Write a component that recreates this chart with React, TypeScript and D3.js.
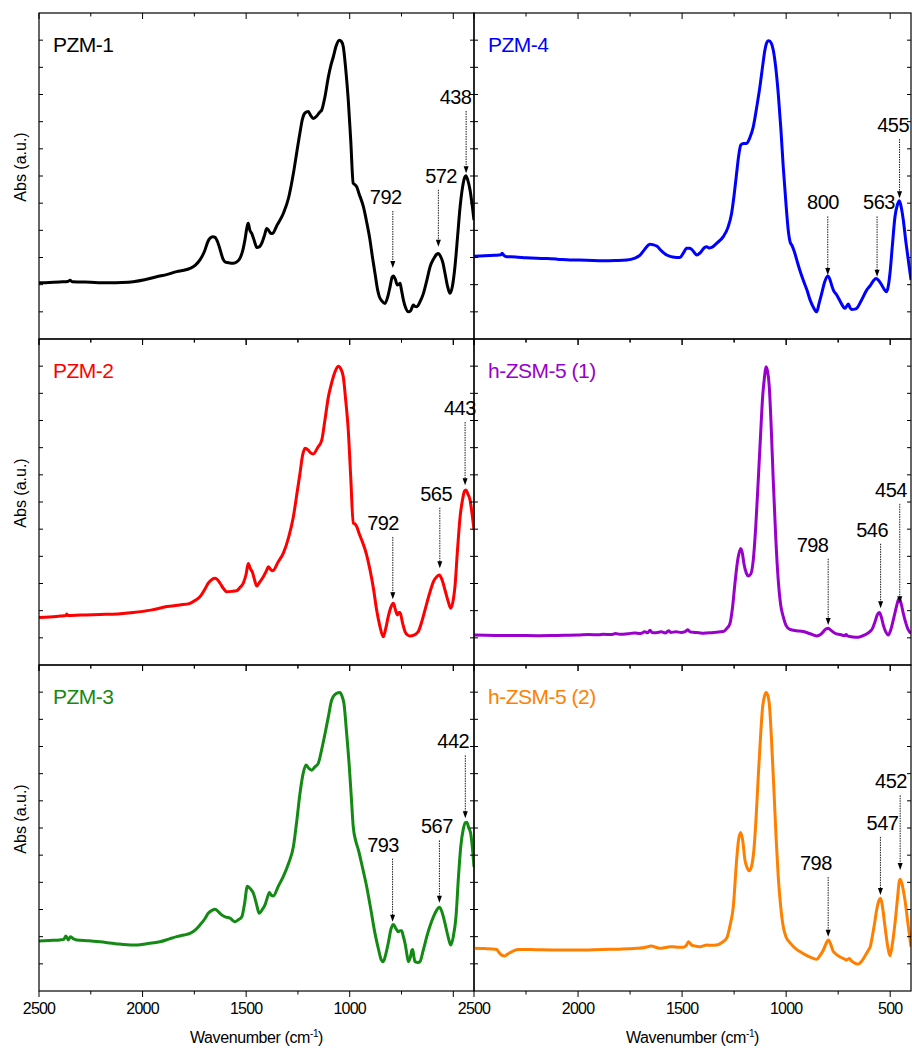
import { useEffect, useRef } from 'react';
import * as d3 from 'd3';

// spectra: [wavenumber (cm-1), absorbance in arbitrary units 0..12]
const pzm1 = [[2500,2.07],[2450,2.08],[2400,2.1],[2360,2.12],[2350,2.16],[2340,2.11],[2300,2.1],[2250,2.09],[2200,2.07],[2157,2.07],[2100,2.08],[2045,2.11],[1990,2.18],[1932,2.29],[1880,2.38],[1835,2.48],[1800,2.53],[1771,2.6],[1745,2.72],[1723,2.91],[1700,3.25],[1685,3.58],[1674,3.71],[1660,3.76],[1650,3.74],[1638,3.58],[1626,3.3],[1612,2.95],[1600,2.83],[1580,2.8],[1562,2.79],[1545,2.84],[1530,2.97],[1515,3.3],[1506,3.64],[1495,4.15],[1490,4.26],[1482,4.0],[1473,3.89],[1460,3.6],[1449,3.37],[1435,3.4],[1425,3.52],[1410,3.85],[1401,4.07],[1390,3.98],[1380,3.88],[1372,3.89],[1350,4.2],[1320,4.63],[1295,5.2],[1272,6.09],[1255,6.9],[1240,7.6],[1228,8.1],[1216,8.32],[1200,8.37],[1188,8.22],[1176,8.12],[1160,8.2],[1145,8.35],[1135,8.43],[1120,8.9],[1103,9.65],[1090,10.1],[1079,10.39],[1065,10.8],[1050,11.0],[1040,10.95],[1031,10.76],[1020,10.0],[1007,8.8],[995,7.3],[983,5.73],[975,5.68],[966,5.6],[955,5.35],[934,4.87],[918,4.3],[902,3.64],[890,3.0],[878,2.42],[865,1.8],[857,1.56],[845,1.4],[830,1.31],[815,1.6],[805,1.93],[795,2.28],[789,2.32],[780,2.2],[770,1.99],[762,2.02],[757,2.05],[750,1.8],[741,1.44],[730,1.15],[717,1.0],[705,1.05],[693,1.25],[685,1.2],[676,1.19],[660,1.38],[644,1.68],[628,2.15],[612,2.66],[595,2.95],[580,3.12],[572,3.15],[562,3.05],[550,2.8],[540,2.42],[528,1.95],[516,1.68],[504,1.95],[492,2.66],[480,3.7],[467,4.87],[455,5.6],[445,5.95],[439,6.01],[430,5.85],[419,5.48],[410,5.0],[400,4.38]];

const pzm4 = [[2500,3.05],[2450,3.06],[2400,3.08],[2370,3.1],[2365,3.16],[2355,3.07],[2343,3.03],[2300,3.02],[2250,2.99],[2199,2.97],[2150,2.96],[2100,2.94],[2039,2.91],[1960,2.9],[1879,2.88],[1820,2.89],[1766,2.91],[1730,2.97],[1702,3.09],[1680,3.3],[1662,3.46],[1654,3.49],[1640,3.47],[1622,3.42],[1600,3.25],[1574,3.09],[1545,3.02],[1510,3.0],[1495,3.15],[1478,3.34],[1465,3.34],[1454,3.3],[1440,3.17],[1430,3.09],[1410,3.2],[1392,3.37],[1382,3.4],[1370,3.35],[1358,3.37],[1330,3.55],[1302,3.77],[1280,4.1],[1262,4.63],[1250,5.3],[1238,6.1],[1228,6.75],[1218,7.14],[1205,7.2],[1190,7.2],[1175,7.4],[1158,7.81],[1140,8.6],[1126,9.29],[1112,10.1],[1102,10.64],[1090,10.95],[1083,10.98],[1072,10.9],[1062,10.64],[1050,10.0],[1038,9.04],[1025,7.7],[1014,6.34],[1000,4.9],[990,4.01],[980,3.55],[973,3.46],[960,3.2],[949,2.91],[935,2.55],[918,2.17],[900,1.8],[885,1.44],[868,1.15],[853,1.0],[842,1.3],[829,1.68],[815,2.1],[800,2.32],[790,2.2],[780,1.95],[773,1.8],[757,1.62],[740,1.38],[725,1.18],[717,1.13],[708,1.22],[701,1.29],[693,1.15],[685,1.09],[670,1.1],[661,1.13],[640,1.4],[613,1.8],[595,1.97],[580,2.15],[568,2.23],[555,2.15],[541,1.99],[528,1.82],[517,1.74],[508,2.0],[501,2.42],[490,3.4],[477,4.5],[465,4.95],[456,5.09],[447,4.85],[437,4.38],[425,3.6],[413,2.91],[400,2.17]];

const pzm2 = [[2500,1.75],[2450,1.77],[2400,1.8],[2370,1.82],[2366,1.88],[2360,1.82],[2300,1.84],[2206,1.86],[2120,1.88],[2045,1.93],[1960,2.02],[1883,2.15],[1820,2.21],[1771,2.27],[1745,2.38],[1723,2.51],[1700,2.78],[1683,3.01],[1665,3.15],[1650,3.19],[1638,3.14],[1626,3.01],[1610,2.82],[1594,2.7],[1570,2.71],[1546,2.73],[1530,2.85],[1514,3.01],[1500,3.35],[1490,3.74],[1480,3.55],[1470,3.42],[1460,3.15],[1449,2.91],[1435,3.05],[1417,3.25],[1400,3.5],[1393,3.62],[1382,3.52],[1372,3.47],[1345,3.8],[1321,4.11],[1295,4.7],[1272,5.46],[1255,6.3],[1240,7.06],[1228,7.7],[1216,7.98],[1200,7.91],[1188,7.8],[1176,7.77],[1155,8.0],[1135,8.28],[1120,9.0],[1103,9.87],[1090,10.3],[1079,10.61],[1065,10.9],[1055,11.0],[1043,10.9],[1031,10.61],[1020,9.8],[1007,8.65],[995,6.9],[983,5.22],[975,5.2],[966,5.09],[955,4.85],[942,4.6],[920,4.1],[902,3.5],[885,2.8],[870,2.02],[855,1.45],[838,1.04],[826,1.35],[814,1.78],[800,2.15],[789,2.27],[780,2.05],[770,1.84],[763,1.93],[757,1.93],[745,1.55],[733,1.23],[720,1.1],[709,1.07],[690,1.1],[669,1.23],[650,1.65],[628,2.27],[610,2.75],[596,3.07],[580,3.25],[567,3.31],[555,3.15],[540,2.76],[525,2.35],[512,2.09],[500,2.4],[492,2.88],[480,4.2],[467,5.46],[455,6.1],[446,6.4],[439,6.44],[430,6.3],[419,6.07],[410,5.6],[400,4.97]];

const hzsm1 = [[2500,1.1],[2400,1.09],[2300,1.09],[2199,1.08],[2100,1.09],[2000,1.1],[1950,1.12],[1900,1.11],[1879,1.13],[1840,1.12],[1820,1.16],[1800,1.13],[1760,1.15],[1730,1.18],[1718,1.17],[1700,1.16],[1680,1.22],[1665,1.19],[1654,1.28],[1645,1.2],[1625,1.19],[1600,1.22],[1580,1.18],[1565,1.26],[1555,1.2],[1530,1.22],[1505,1.2],[1485,1.23],[1472,1.3],[1462,1.22],[1440,1.2],[1420,1.19],[1398,1.17],[1350,1.2],[1302,1.23],[1285,1.35],[1270,1.53],[1258,2.1],[1246,3.01],[1232,3.9],[1218,4.29],[1210,4.1],[1203,3.74],[1192,3.4],[1182,3.28],[1170,3.35],[1158,3.86],[1146,5.1],[1134,6.81],[1122,8.6],[1113,9.87],[1104,10.6],[1097,10.98],[1089,10.8],[1081,10.24],[1072,8.8],[1062,6.81],[1050,4.7],[1038,3.13],[1026,2.2],[1014,1.78],[1000,1.45],[982,1.31],[950,1.26],[918,1.23],[885,1.15],[853,1.07],[835,1.12],[821,1.23],[808,1.33],[797,1.35],[785,1.28],[765,1.17],[740,1.12],[720,1.08],[712,1.12],[705,1.07],[680,1.03],[653,1.02],[625,1.1],[597,1.23],[585,1.35],[573,1.59],[562,1.85],[552,1.93],[542,1.75],[533,1.47],[520,1.2],[509,1.1],[497,1.3],[485,1.66],[470,2.15],[460,2.42],[456,2.45],[447,2.25],[437,1.9],[425,1.55],[413,1.29],[400,1.17]];

const pzm3 = [[2500,1.84],[2450,1.86],[2399,1.88],[2380,1.9],[2371,2.02],[2364,1.95],[2358,1.88],[2352,1.96],[2347,2.0],[2335,1.92],[2318,1.88],[2260,1.85],[2206,1.81],[2130,1.74],[2045,1.69],[1980,1.74],[1916,1.81],[1870,1.92],[1835,2.0],[1800,2.06],[1771,2.12],[1745,2.25],[1723,2.43],[1700,2.65],[1683,2.86],[1665,2.97],[1650,3.01],[1632,2.9],[1618,2.8],[1598,2.72],[1578,2.68],[1565,2.6],[1554,2.55],[1538,2.62],[1521,2.73],[1508,3.2],[1494,3.86],[1478,3.75],[1465,3.6],[1450,3.2],[1437,2.86],[1422,3.0],[1409,3.17],[1395,3.5],[1388,3.63],[1378,3.52],[1369,3.5],[1345,3.85],[1321,4.21],[1295,4.7],[1272,5.31],[1255,6.3],[1240,7.28],[1225,8.0],[1211,8.32],[1198,8.2],[1184,8.13],[1168,8.25],[1152,8.38],[1135,8.9],[1119,9.48],[1103,10.1],[1087,10.71],[1065,10.95],[1047,10.99],[1037,10.85],[1028,10.59],[1015,9.5],[1002,8.26],[992,7.1],[983,6.05],[970,5.5],[958,5.19],[940,4.6],[918,3.84],[898,3.0],[878,2.12],[860,1.5],[848,1.15],[838,1.08],[826,1.35],[814,1.76],[800,2.3],[789,2.45],[777,2.3],[765,2.18],[757,2.22],[749,2.22],[741,2.0],[733,1.76],[725,1.4],[717,1.08],[707,1.25],[700,1.5],[696,1.53],[690,1.25],[685,1.08],[670,1.05],[661,1.08],[645,1.5],[628,2.0],[612,2.4],[596,2.73],[580,2.98],[567,3.08],[555,2.92],[540,2.49],[525,2.0],[512,1.69],[500,2.0],[487,2.73],[475,4.2],[464,5.31],[452,5.95],[442,6.2],[435,6.21],[425,6.0],[416,5.8],[408,5.3],[400,4.57]];

const hzsm2 = [[2500,1.57],[2450,1.56],[2410,1.55],[2391,1.53],[2380,1.42],[2367,1.32],[2351,1.29],[2340,1.35],[2327,1.41],[2310,1.48],[2287,1.53],[2200,1.52],[2119,1.51],[2000,1.51],[1879,1.53],[1800,1.54],[1718,1.57],[1680,1.6],[1660,1.64],[1646,1.66],[1630,1.62],[1606,1.57],[1580,1.6],[1560,1.63],[1542,1.63],[1520,1.61],[1494,1.61],[1478,1.7],[1470,1.81],[1462,1.76],[1454,1.69],[1440,1.66],[1414,1.63],[1395,1.67],[1382,1.69],[1360,1.68],[1334,1.69],[1310,1.78],[1286,1.94],[1270,2.4],[1254,3.1],[1238,4.82],[1228,5.6],[1218,5.83],[1208,5.5],[1198,4.82],[1188,4.55],[1177,4.43],[1166,4.6],[1155,5.19],[1145,6.3],[1134,7.89],[1122,9.5],[1113,10.46],[1104,10.85],[1097,10.99],[1089,10.9],[1081,10.59],[1070,9.2],[1058,7.28],[1048,5.6],[1038,4.21],[1026,3.1],[1014,2.37],[1000,1.98],[982,1.78],[960,1.6],[934,1.45],[900,1.3],[870,1.2],[853,1.17],[838,1.3],[821,1.51],[808,1.75],[797,1.88],[785,1.7],[775,1.48],[765,1.39],[740,1.25],[720,1.18],[709,1.14],[697,1.2],[685,1.1],[668,1.02],[653,0.99],[637,1.1],[621,1.29],[605,1.5],[595,1.65],[589,1.88],[577,2.4],[565,2.98],[553,3.35],[546,3.41],[537,3.1],[525,2.37],[512,1.65],[501,1.29],[490,1.7],[477,2.49],[465,3.4],[456,4.05],[452,4.11],[442,3.9],[429,3.35],[415,2.5],[400,1.63]];

// peak annotations: arrow at w, text centred at textW
const pzm1Peaks = [
  { label: '792', w: 792, textW: 826, textU: 4.97, tipU: 2.61 },
  { label: '572', w: 572, textW: 559, textU: 5.75, tipU: 3.4 },
  { label: '438', w: 438, textW: 489, textU: 8.65, tipU: 6.1 },
];
const pzm4Peaks = [
  { label: '800', w: 800, textW: 823, textU: 4.77, tipU: 2.36 },
  { label: '563', w: 563, textW: 554, textU: 4.77, tipU: 2.29 },
  { label: '455', w: 455, textW: 486, textU: 7.62, tipU: 5.18 },
];
const pzm2Peaks = [
  { label: '792', w: 792, textW: 839, textU: 4.97, tipU: 2.42 },
  { label: '565', w: 565, textW: 583, textU: 6.05, tipU: 3.56 },
  { label: '443', w: 443, textW: 468, textU: 9.2, tipU: 6.62 },
];
const hzsm1Peaks = [
  { label: '798', w: 798, textW: 873, textU: 4.17, tipU: 1.47 },
  { label: '546', w: 546, textW: 587, textU: 4.72, tipU: 2.09 },
  { label: '454', w: 454, textW: 496, textU: 6.19, tipU: 2.27 },
];
const pzm3Peaks = [
  { label: '793', w: 793, textW: 839, textU: 5.13, tipU: 2.55 },
  { label: '567', w: 567, textW: 579, textU: 5.8, tipU: 3.25 },
  { label: '442', w: 442, textW: 500, textU: 8.93, tipU: 6.36 },
];
const hzsm2Peaks = [
  { label: '798', w: 798, textW: 857, textU: 4.45, tipU: 2.0 },
  { label: '547', w: 547, textW: 537, textU: 5.93, tipU: 3.53 },
  { label: '452', w: 452, textW: 496, textU: 7.46, tipU: 4.45 },
];

const leftTickLabels = [2500, 2000, 1500, 1000];
const rightTickLabels = [2500, 2000, 1500, 1000, 500];
const xTicks = [2500, 2250, 2000, 1750, 1500, 1250, 1000, 750, 500];
const yTicks = [1, 2, 3, 4, 5, 6, 7, 8, 9, 10, 11];

const panels = [
  { name: 'PZM-1', color: '#000000', data: pzm1, peaks: pzm1Peaks, col: 0, row: 0 },
  { name: 'PZM-4', color: '#0000ff', data: pzm4, peaks: pzm4Peaks, col: 1, row: 0 },
  { name: 'PZM-2', color: '#ff0000', data: pzm2, peaks: pzm2Peaks, col: 0, row: 1 },
  { name: 'h-ZSM-5 (1)', color: '#9900cc', data: hzsm1, peaks: hzsm1Peaks, col: 1, row: 1 },
  { name: 'PZM-3', color: '#138a13', data: pzm3, peaks: pzm3Peaks, col: 0, row: 2 },
  { name: 'h-ZSM-5 (2)', color: '#ff8000', data: hzsm2, peaks: hzsm2Peaks, col: 1, row: 2 },
];

const width = 912,
  height = 1052;
const colEdges = [39, 474, 911];
const rowEdges = [13, 339, 665, 991];
const font = 'Liberation Sans, Arial, sans-serif';

const App = () => {
  const ref = useRef(null);

  useEffect(() => {
    const svg = d3.select(ref.current);
    svg.selectAll('*').remove();
    svg.append('rect').attr('width', width).attr('height', height).attr('fill', '#fff');

    panels.forEach((p, i) => {
      const x0 = colEdges[p.col],
        x1 = colEdges[p.col + 1];
      const y0 = rowEdges[p.row],
        y1 = rowEdges[p.row + 1];
      const x = d3.scaleLinear().domain([2500, 400]).range([x0, x1]);
      const y = d3.scaleLinear().domain([0, 12]).range([y1, y0]);
      const g = svg.append('g');

      g.append('clipPath')
        .attr('id', `clip${i}`)
        .append('rect')
        .attr('x', x0)
        .attr('y', y0)
        .attr('width', x1 - x0)
        .attr('height', y1 - y0);

      const line = d3
        .line()
        .x((d) => x(d[0]))
        .y((d) => y(d[1]))
        .curve(d3.curveMonotoneX);

      g.append('path')
        .attr('clip-path', `url(#clip${i})`)
        .attr('d', line(p.data))
        .attr('fill', 'none')
        .attr('stroke', p.color)
        .attr('stroke-width', 3)
        .attr('stroke-linejoin', 'round');

      // frame
      g.append('rect')
        .attr('x', x0)
        .attr('y', y0)
        .attr('width', x1 - x0)
        .attr('height', y1 - y0)
        .attr('fill', 'none')
        .attr('stroke', '#000')
        .attr('stroke-width', 1.2);

      // x ticks (top inward, bottom outward)
      xTicks.forEach((t) => {
        const len = t % 500 === 0 ? 6 : 3.5;
        g.append('line').attr('x1', x(t)).attr('x2', x(t)).attr('y1', y0).attr('y2', y0 + len).attr('stroke', '#000');
        g.append('line').attr('x1', x(t)).attr('x2', x(t)).attr('y1', y1).attr('y2', y1 + len).attr('stroke', '#000');
      });
      // y ticks (no labels)
      yTicks.forEach((t) => {
        g.append('line').attr('x1', x0).attr('x2', x0 + 4).attr('y1', y(t)).attr('y2', y(t)).attr('stroke', '#000');
        g.append('line').attr('x1', x1 - 4).attr('x2', x1).attr('y1', y(t)).attr('y2', y(t)).attr('stroke', '#000');
      });

      // sample name
      g.append('text')
        .attr('x', x0 + 14)
        .attr('y', y0 + 39)
        .attr('font-family', font)
        .attr('font-size', 21)
        .attr('letter-spacing', -0.5)
        .attr('fill', p.color)
        .text(p.name);

      // peak annotations
      p.peaks.forEach((pk) => {
        const ax = x(pk.w);
        const ty = y(pk.textU);
        const tip = y(pk.tipU);
        g.append('text')
          .attr('x', x(pk.textW))
          .attr('y', ty)
          .attr('text-anchor', 'middle')
          .attr('font-family', font)
          .attr('font-size', 20)
          .attr('letter-spacing', -0.5)
          .attr('fill', '#000')
          .text(pk.label);
        g.append('line')
          .attr('x1', ax)
          .attr('x2', ax)
          .attr('y1', ty + 7)
          .attr('y2', tip - 5)
          .attr('stroke', '#000')
          .attr('stroke-width', 0.9)
          .attr('stroke-dasharray', '1.5,1');
        g.append('path')
          .attr('d', `M${ax - 2.5},${tip - 7}L${ax + 2.5},${tip - 7}L${ax},${tip}Z`)
          .attr('fill', '#000');
      });

      // y label on left column
      if (p.col === 0) {
        const cy = (y0 + y1) / 2 - 9;
        g.append('text')
          .attr('transform', `translate(26,${cy}) rotate(-90)`)
          .attr('text-anchor', 'middle')
          .attr('font-family', font)
          .attr('font-size', 16)
          .text('Abs (a.u.)');
      }

      // bottom row: tick labels and axis title
      if (p.row === 2) {
        const labels = p.col === 0 ? leftTickLabels : rightTickLabels;
        labels.forEach((t) => {
          g.append('text')
            .attr('x', x(t))
            .attr('y', y1 + 23)
            .attr('text-anchor', 'middle')
            .attr('font-family', font)
            .attr('font-size', 16)
            .attr('letter-spacing', -0.8)
            .text(t);
        });
        const title = g
          .append('text')
          .attr('x', (x0 + x1) / 2)
          .attr('y', y1 + 52)
          .attr('text-anchor', 'middle')
          .attr('font-family', font)
          .attr('font-size', 16)
          .attr('letter-spacing', -0.4);
        title.append('tspan').text('Wavenumber (cm');
        title.append('tspan').attr('dy', -6).attr('font-size', 10).text('-1');
        title.append('tspan').attr('dy', 6).text(')');
      }
    });
  }, []);

  return (
    <svg
      ref={ref}
      width={width}
      height={height}
      style={{ position: 'absolute', left: 0, top: 0, display: 'block' }}
    />
  );
};

export default App;
